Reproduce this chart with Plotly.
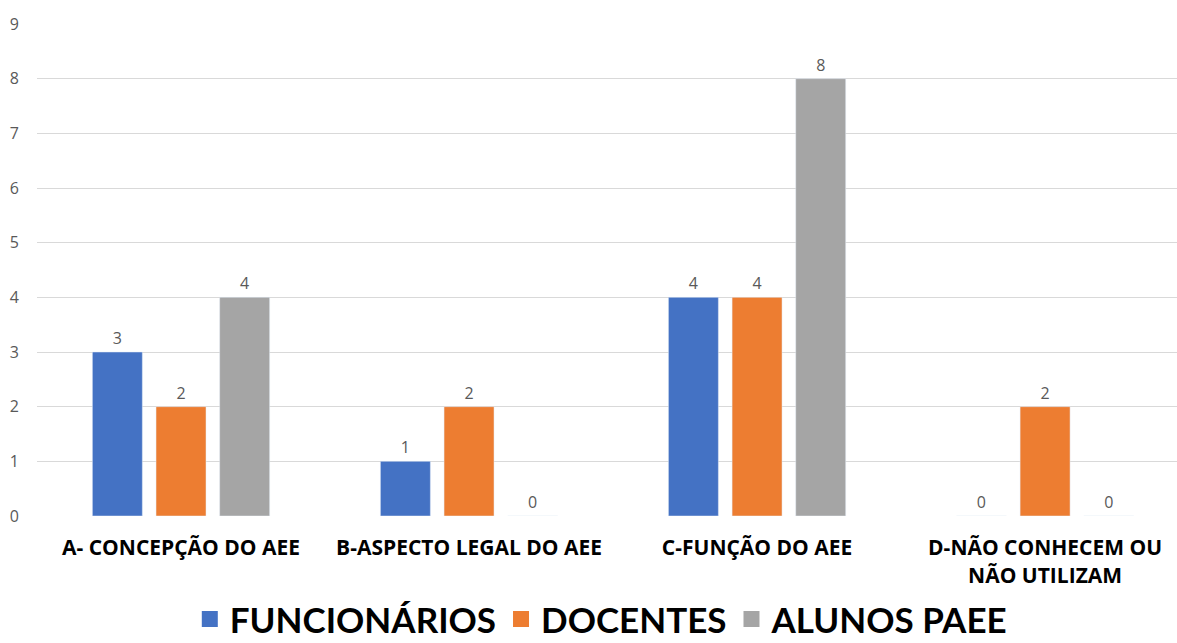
import plotly.graph_objects as go

categories = ["A- CONCEPÇÃO DO AEE", "B-ASPECTO LEGAL DO AEE", "C-FUNÇÃO DO AEE",
              "D-NÃO CONHECEM OU<br>NÃO UTILIZAM"]
series_names = ["FUNCIONÁRIOS", "DOCENTES", "ALUNOS PAEE"]
funcionarios = [3, 1, 4, 0]
docentes = [2, 2, 4, 2]
alunos_paee = [4, 0, 8, 0]
y_ticks = [0, 1, 2, 3, 4, 5, 6, 7, 8, 9]

colors = ["#4472C4", "#ED7D31", "#A5A5A5"]
values = [funcionarios, docentes, alunos_paee]
x_pos = list(range(len(categories)))

fig = go.Figure()
for name, vals, col in zip(series_names, values, colors):
    fig.add_trace(go.Bar(
        x=x_pos, y=vals, name=name, marker_color=col, showlegend=False,
        text=[str(v) for v in vals], textposition="outside", cliponaxis=False,
        textfont=dict(family="Open Sans", size=16, color="#595959"),
    ))

# legend entries with larger square swatches
for name, col in zip(series_names, colors):
    fig.add_trace(go.Scatter(
        x=[None], y=[None], mode="markers", name=name,
        marker=dict(symbol="square", size=16, color=col),
    ))

fig.update_layout(
    width=1177, height=643,
    margin=dict(l=37, r=0, t=24, b=127, autoexpand=False),
    paper_bgcolor="white", plot_bgcolor="white",
    barmode="group", bargap=0.337, bargroupgap=0.215,
    font=dict(family="Open Sans", color="#595959"),
    xaxis=dict(
        range=[-0.5, 3.458], tickmode="array", tickvals=x_pos,
        ticktext=[f"<b>{c}</b>" for c in categories],
        tickfont=dict(family="Open Sans", size=21, color="#000000"),
        showgrid=False, zeroline=False, showline=False, automargin=False,
        ticks="outside", ticklen=13, tickcolor="rgba(0,0,0,0)",
    ),
    yaxis=dict(
        range=[0, 9], tickmode="array", tickvals=y_ticks,
        tickfont=dict(family="Open Sans", size=16, color="#595959"),
        showgrid=True, gridcolor="#D9D9D9", gridwidth=1,
        zeroline=False, showline=False, ticklabelstandoff=17, automargin=False,
    ),
    legend=dict(
        orientation="h", x=0.495, xanchor="center", y=-0.21, yanchor="middle",
        font=dict(family="Lato", size=35, color="#000000", weight="bold"),
        itemwidth=30, itemclick=False,
    ),
)

fig.write_html("out.html")
